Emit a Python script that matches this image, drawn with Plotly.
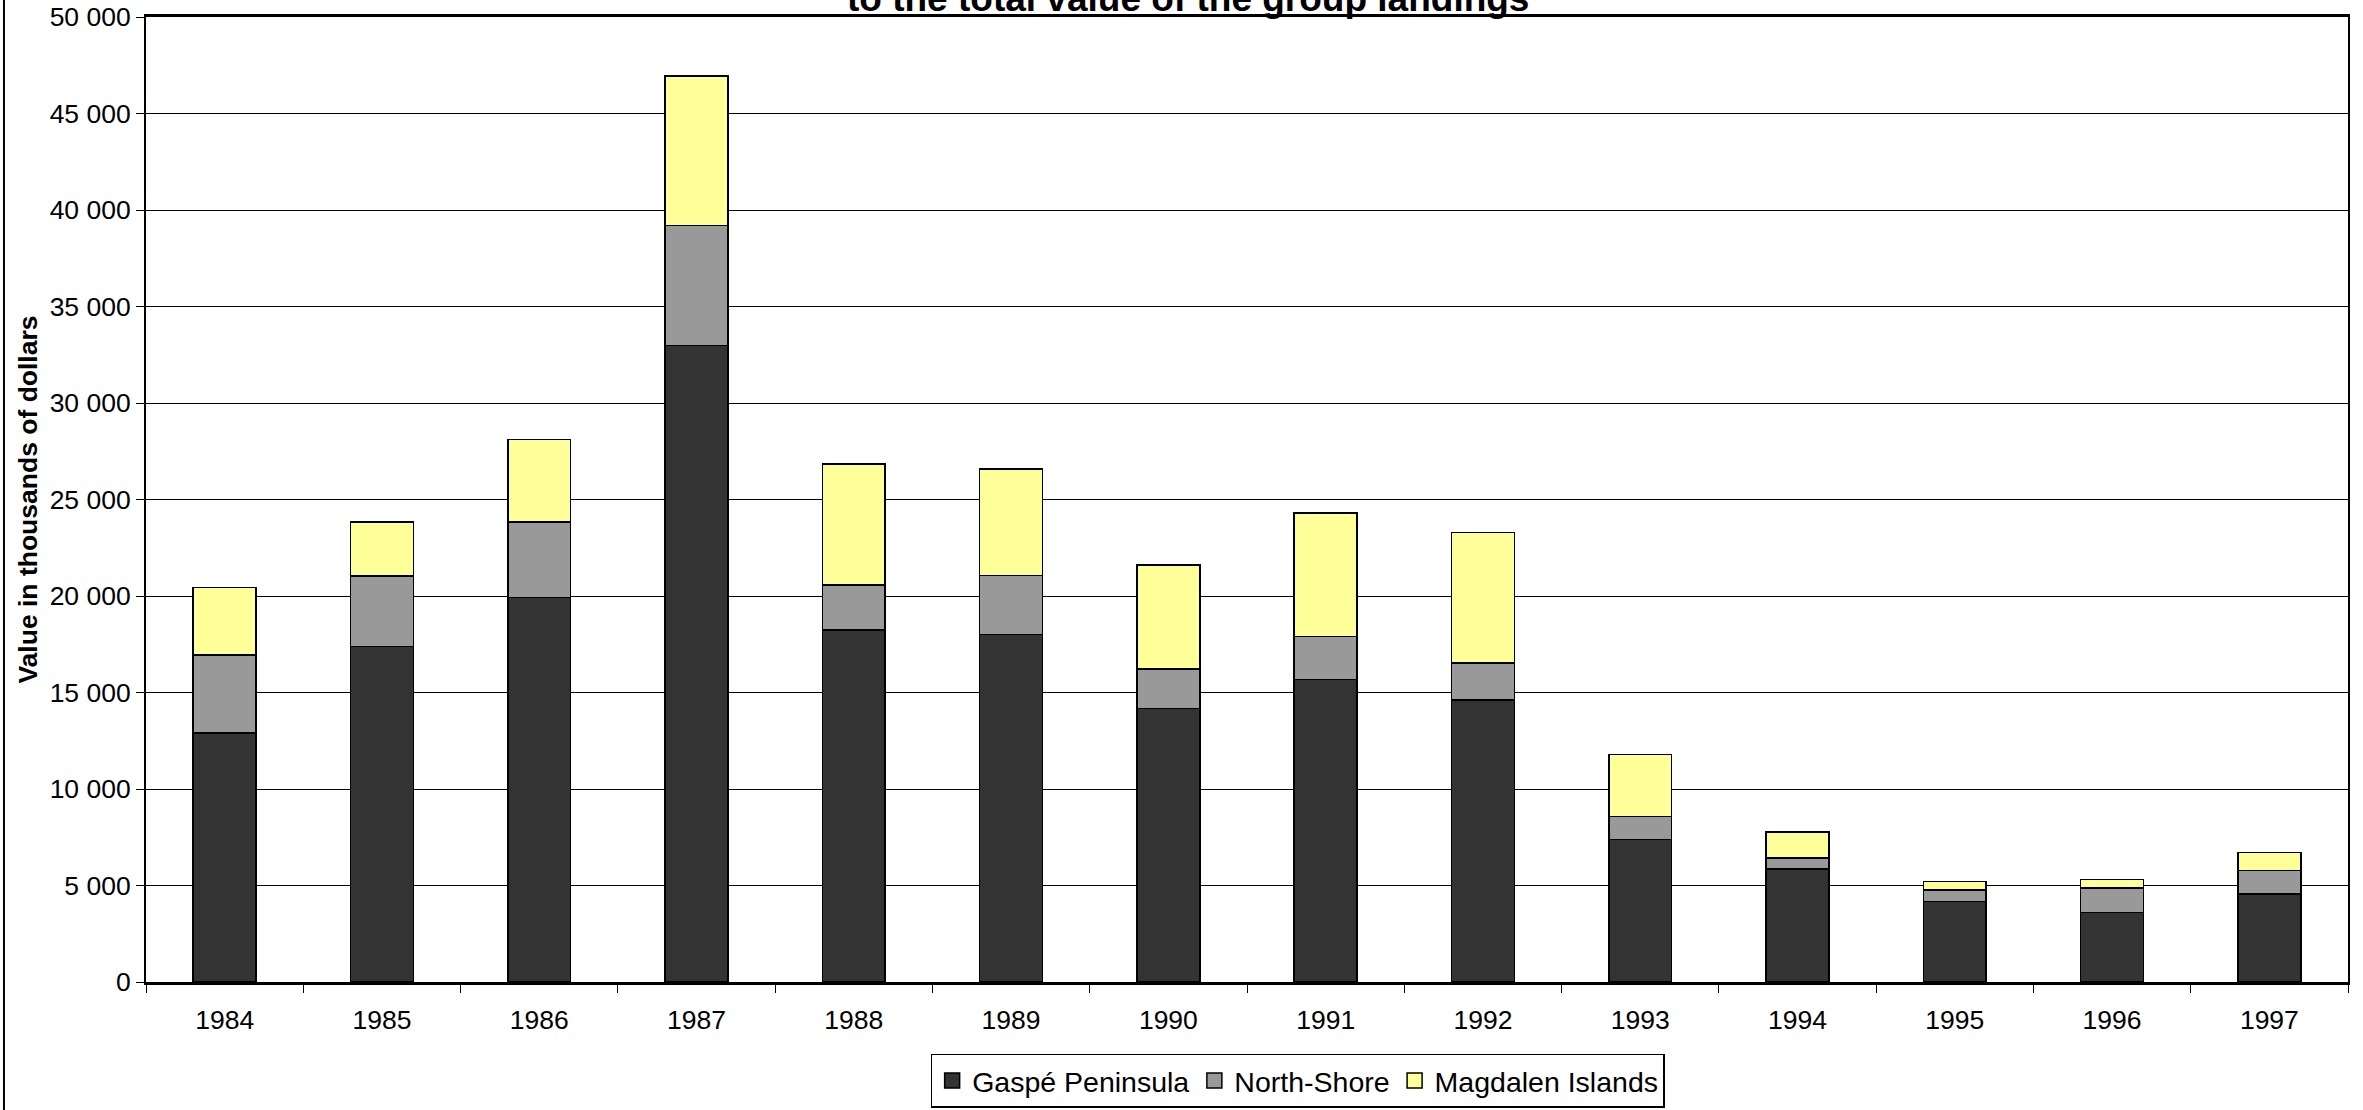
import plotly.graph_objects as go

years = ['1984', '1985', '1986', '1987', '1988', '1989', '1990',
         '1991', '1992', '1993', '1994', '1995', '1996', '1997']

gaspe = [12900, 17390, 19910, 32970, 18250, 18000, 14170,
         15670, 14620, 7380, 5860, 4160, 3590, 4550]
north_shore = [4050, 3650, 3920, 6230, 2330, 3060, 2040,
               2240, 1920, 1190, 570, 620, 1270, 1230]
magdalen = [3480, 2790, 4270, 7750, 6250, 5510, 5400,
            6390, 6740, 3230, 1330, 440, 450, 930]

names = ['Gaspé Peninsula', 'North-Shore', 'Magdalen Islands']
colors = ['#333333', '#999999', '#FFFF99']

font_family = 'Liberation Sans, Arial, sans-serif'

fig = go.Figure()

for vals, name, col in zip([gaspe, north_shore, magdalen], names, colors):
    fig.add_trace(go.Bar(x=years, y=vals, name=name, showlegend=False,
                         marker=dict(color=col, line=dict(color='#000000', width=1.5))))

# legend entries with bigger square swatches, like the original
for name, col in zip(names, colors):
    fig.add_trace(go.Scatter(x=[None], y=[None], mode='markers', name=name,
                             marker=dict(symbol='square', size=15, color=col,
                                         line=dict(color='#000000', width=1.5))))

fig.update_layout(
    barmode='stack',
    bargap=0.6,
    width=2363, height=1110,
    margin=dict(l=146, r=15, t=17, b=128),
    paper_bgcolor='white', plot_bgcolor='white',
    font=dict(family=font_family, size=26.5, color='#000000'),
    separators='. ',
    showlegend=True,
    legend=dict(
        orientation='h', xref='paper', x=0.523, xanchor='center',
        yref='container', y=0.0505, yanchor='top',
        bordercolor='#000000', borderwidth=1.5, bgcolor='white',
        font=dict(size=28.5), traceorder='normal', itemsizing='trace',
        itemwidth=30, tracegroupgap=0,
    ),
)

fig.update_xaxes(
    type='category', showline=True, linecolor='#000000', linewidth=2.5, mirror=True,
    ticks='outside', tickson='boundaries', ticklen=8, tickcolor='#000000',
    ticklabelstandoff=12, showgrid=False, automargin=False,
)
fig.update_yaxes(
    range=[0, 50000], dtick=5000, tickformat=',d',
    showline=True, linecolor='#000000', linewidth=2, mirror=True,
    ticks='outside', ticklen=8, tickcolor='#000000', automargin=False,
    showgrid=True, gridcolor='#000000', gridwidth=1, zeroline=False,
)

# title, mostly cut off at the top of the image
fig.add_annotation(
    text='<b>Contribution of each region<br>to the total value of the group landings</b>',
    xref='paper', yref='paper', x=0.473, y=1.0, xanchor='center', yanchor='bottom',
    yshift=-4, showarrow=False, font=dict(size=37, family=font_family),
)

# y-axis title
fig.add_annotation(
    text='<b>Value in thousands of dollars</b>',
    xref='paper', yref='paper', x=-0.054, y=0.5, xanchor='center', yanchor='middle',
    textangle=-90, showarrow=False, font=dict(size=26.5, family=font_family),
)

# chart-area border on the left
fig.add_shape(type='line', xref='paper', yref='paper', x0=-0.0645, x1=-0.0645,
              y0=-0.2, y1=1.1, line=dict(color='#000000', width=2))

# drop the default page margin so the figure sits at the top-left corner
fig.write_html('out.html', config={'displayModeBar': False},
               post_script="document.body.style.margin='0';")
